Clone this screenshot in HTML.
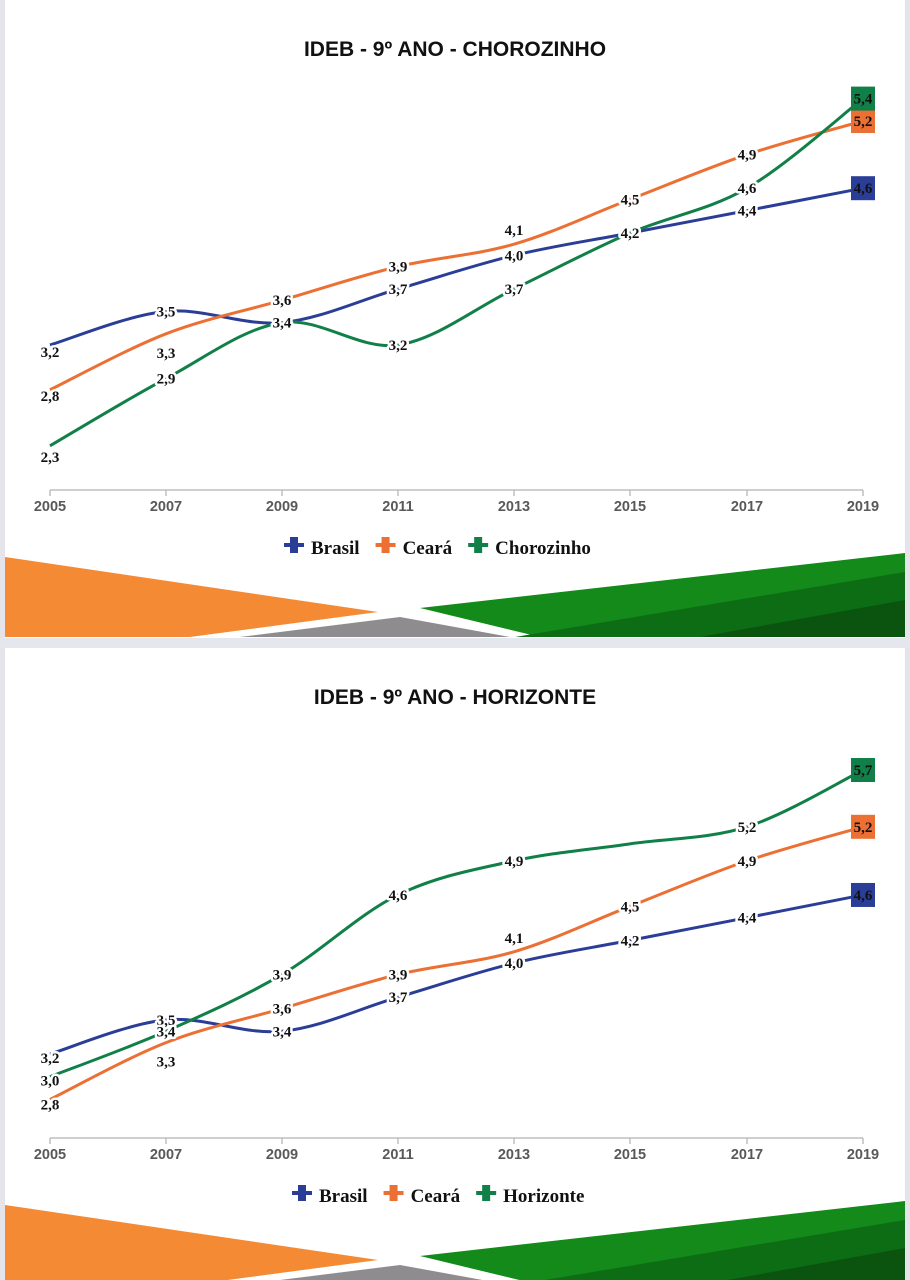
<!DOCTYPE html>
<html><head><meta charset="utf-8"><style>
html,body{margin:0;padding:0;background:#fff;}
body{width:910px;height:1280px;overflow:hidden;position:relative;}
svg{position:absolute;left:0;top:0;}
</style></head><body>
<svg id="s" width="910" height="1280" viewBox="0 0 910 1280" xmlns="http://www.w3.org/2000/svg">
<rect x="0" y="0" width="910" height="1280" fill="#fff"/>
<rect x="0" y="0" width="5" height="1280" fill="#e4e4ea"/>
<rect x="905" y="0" width="5" height="1280" fill="#e4e4ea"/>
<rect x="0" y="638" width="910" height="10" fill="#e6e6ee"/>
</svg>
<script>
const NS="http://www.w3.org/2000/svg";
const svg=document.getElementById('s');
function el(t,a,p){const e=document.createElementNS(NS,t);for(const k in a)e.setAttribute(k,a[k]);(p||svg).appendChild(e);return e;}
function txt(x,y,s,a,p){const e=el('text',Object.assign({x:x,y:y},a),p);e.textContent=s;return e;}
const xs=[50,166,282,398,514,630,747,863];
const years=['2005','2007','2009','2011','2013','2015','2017','2019'];
const cols={b:'#2a3e97',o:'#ec6f33',g:'#118048'};
function path(pts){let d='M'+pts[0][0]+','+pts[0][1];
 for(let i=0;i<pts.length-1;i++){const p0=pts[i-1]||pts[i],p1=pts[i],p2=pts[i+1],p3=pts[i+2]||p2;const t=1/6;
 const c1=[p1[0]+(p2[0]-p0[0])*t,p1[1]+(p2[1]-p0[1])*t],c2=[p2[0]-(p3[0]-p1[0])*t,p2[1]-(p3[1]-p1[1])*t];
 d+=' C'+c1+' '+c2+' '+p2;}return d;}
function chart(oy,title,y0,k,axisY,series,third){
 const g=el('g',{});
 const Y=v=>y0-(v-3.2)*k;
 txt(455,oy+56,title,{'font-family':'Liberation Sans, sans-serif','font-weight':'bold','font-size':'21','text-anchor':'middle',fill:'#111','xml:space':'preserve'},g);
 el('line',{x1:50,y1:axisY,x2:863,y2:axisY,stroke:'#bfbfbf','stroke-width':1.5},g);
 xs.forEach((x,i)=>{el('line',{x1:x,y1:axisY,x2:x,y2:axisY+6,stroke:'#bfbfbf','stroke-width':1.5},g);
  txt(x,axisY+21,years[i],{'font-family':'Liberation Sans, sans-serif','font-weight':'bold','font-size':'14.5','text-anchor':'middle',fill:'#595959'},g);});
 series.forEach(s=>{
  const pts=s.v.map((v,i)=>[xs[i],Y(v)]);
  el('path',{d:path(pts),fill:'none',stroke:cols[s.c],'stroke-width':3},g);
 });
 series.forEach(s=>{
  s.v.forEach((v,i)=>{if(s.skip&&s.skip.includes(i))return;const x=xs[i],y=Y(v)+(s.off&&s.off[i]||0);const str=v.toFixed(1).replace('.',',');
   if(i==7){el('rect',{x:x-12,y:y-12,width:24,height:24,fill:cols[s.c]},g);
    txt(x,y+5,str,{'font-family':'Liberation Serif, serif','font-weight':'bold','font-size':'15','text-anchor':'middle',fill:'#111'},g);}
   else{txt(x,y+5,str,{'font-family':'Liberation Serif, serif','font-weight':'bold','font-size':'15','text-anchor':'middle',fill:'#111',stroke:'#fff','stroke-width':5,'stroke-linejoin':'round','paint-order':'stroke'},g);}
  });
 });
 const ly=axisY+59; let lx=third=='Chorozinho'?284:292;
 [['b','Brasil'],['o','Ceará'],['g',third]].forEach(([c,n])=>{
  el('rect',{x:lx,y:ly-6,width:20,height:4,fill:cols[c]},g);el('rect',{x:lx+6,y:ly-12,width:8,height:16,fill:cols[c]},g);
  const t=txt(lx+27,ly+5,n,{'font-family':'Liberation Serif, serif','font-weight':'bold','font-size':'19',fill:'#111'},g);
  lx+=27+t.getComputedTextLength()+16;});
 const b=oy;
 el('polygon',{points:`5,${b+557} 378,${b+612} 190,${b+637} 5,${b+637}`,fill:'#f58a35'});
 el('polygon',{points:`240,${b+637} 400,${b+617} 510,${b+637}`,fill:'#8f8c8f'});
 el('polygon',{points:`420,${b+608} 905,${b+553} 905,${b+637} 540,${b+637}`,fill:'#138a1a'});
 el('polygon',{points:`515,${b+637} 905,${b+572} 905,${b+637}`,fill:'#0c6d14'});
 el('polygon',{points:`700,${b+637} 905,${b+600} 905,${b+637}`,fill:'#0a5410'});
}
chart(0,'IDEB -  9º ANO - CHOROZINHO',345,112,490,[
 {c:'b',v:[3.2,3.5,3.4,3.7,4.0,4.2,4.4,4.6],off:[7,0,0,0,0,0,0,0]},
 {c:'o',v:[2.8,3.3,3.6,3.9,4.1,4.5,4.9,5.2],off:[6,19,0,0,-14,0,0,0]},
 {c:'g',v:[2.3,2.9,3.4,3.2,3.7,4.2,4.6,5.4],off:[11,0,0,0,0,0,0,0]}],'Chorozinho');
chart(648,'IDEB -  9º ANO - HORIZONTE',1054,113.6,1138,[
 {c:'b',v:[3.2,3.5,3.4,3.7,4.0,4.2,4.4,4.6],off:[4,0,0,0,0,0,0,0]},
 {c:'o',v:[2.8,3.3,3.6,3.9,4.1,4.5,4.9,5.2],off:[5,19,0,0,-14,0,0,0]},
 {c:'g',v:[3.0,3.4,3.9,4.6,4.9,5.05,5.2,5.7],off:[4,0,0,0,0,0,0,0],skip:[5]}],'Horizonte');
</script>
</body></html>
